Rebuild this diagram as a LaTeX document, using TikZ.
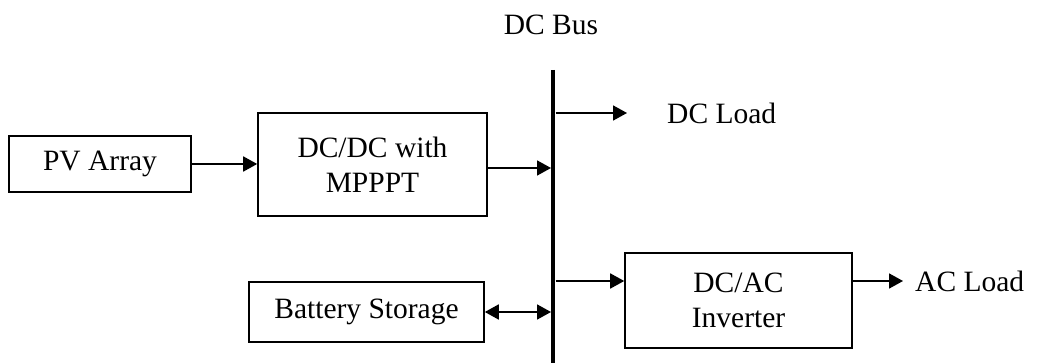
\documentclass[tikz,border=0pt]{standalone}
\usepackage{fontspec}
\setmainfont{Liberation Serif}
\usetikzlibrary{arrows.meta}
\begin{document}
\begin{tikzpicture}[x=1pt,y=-1pt,
  blockbox/.style={draw,line width=1.6pt,minimum width=#1,inner sep=0pt,align=center,
    font=\fontsize{29.5}{35}\selectfont},
  lbl/.style={inner sep=0pt,font=\fontsize{29.5}{35}\selectfont},
  flow/.style={line width=1.8pt,-{Triangle[length=14pt,width=15pt]}},
  both/.style={line width=1.8pt,{Triangle[length=14pt,width=15pt]}-{Triangle[length=14pt,width=15pt]}}]
\useasboundingbox (0,0) rectangle (1038,363);
% blocks
\node[blockbox=182pt,minimum height=56pt] (pv) at (100,164) {PV Array};
\node[blockbox=229pt,minimum height=103pt] (dcdc) at (372.5,164.5) {DC/DC with\\MPPPT};
\node[blockbox=235pt,minimum height=60pt] (bat) at (366.5,312) {Battery Storage};
\node[blockbox=227pt,minimum height=95pt] (inv) at (738.5,300.5) {DC/AC\\Inverter};
% DC bus
\coordinate (bustop) at (553,70);
\coordinate (busbot) at (553,363);
\draw[line width=3.6pt] (bustop) -- (busbot);
\node[lbl] (buslbl) at (551,25) {DC Bus};
% taps on the bus
\coordinate (tapdcin) at (551,168);
\coordinate (tapdc) at (555.5,113);
\coordinate (dcend) at (627,113);
\coordinate (tapbat) at (551,312);
\coordinate (tapinv) at (555.5,281);
\coordinate (acend) at (903,281);
\node[lbl,anchor=west] (dcload) at (667,113) {DC Load};
\node[lbl,anchor=west] (acload) at (915,281) {AC Load};
% connectors
\draw[flow] (pv.east) -- (pv.east -| dcdc.west);
\draw[flow] (dcdc.east |- tapdcin) -- (tapdcin);
\draw[flow] (tapdc) -- (dcend);
\draw[both] (bat.east) -- (tapbat);
\draw[flow] (tapinv) -- (tapinv -| inv.west);
\draw[flow] (inv.east |- acend) -- (acend);
\end{tikzpicture}
\end{document}
